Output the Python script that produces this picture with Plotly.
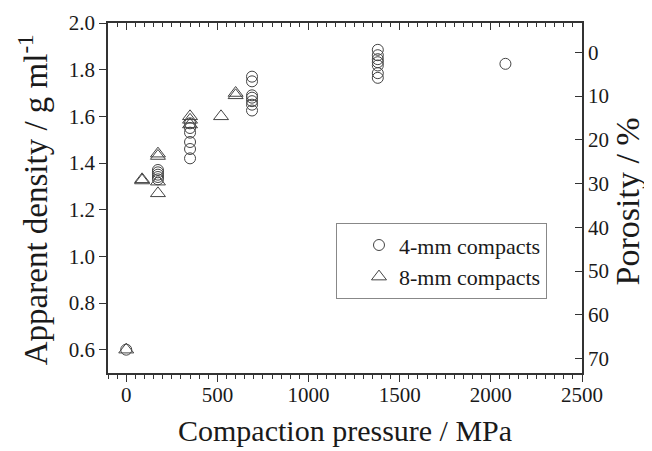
import plotly.graph_objects as go

# ---- data ----
pressure_4mm = [0, 174, 174, 174, 174, 174,
                350, 350, 350, 350, 350, 350,
                690, 690, 690, 690, 690, 690, 690,
                1380, 1380, 1380, 1380, 1380, 1380, 1380,
                2080]
density_4mm = [0.60, 1.37, 1.36, 1.35, 1.34, 1.33,
               1.57, 1.55, 1.53, 1.49, 1.46, 1.42,
               1.77, 1.75, 1.69, 1.68, 1.665, 1.65, 1.625,
               1.885, 1.862, 1.845, 1.832, 1.818, 1.785, 1.765,
               1.825]

pressure_8mm = [0, 87, 87, 174, 174, 174, 174, 350, 350, 350, 520, 600, 600]
density_8mm = [0.60, 1.33, 1.325, 1.44, 1.43, 1.32, 1.27, 1.60, 1.585, 1.565, 1.60, 1.70, 1.69]

true_density = 1.874          # g/ml, links density to porosity axis
x_range = [-100, 2500]
y_range = [0.5, 2.0]
x_ticks = [0, 500, 1000, 1500, 2000, 2500]
porosity_ticks = [0, 10, 20, 30, 40, 50, 60, 70]

x_title = "Compaction pressure / MPa"
y_title = "Apparent density / g ml<sup>-1</sup>"
y2_title = "Porosity / %"

FONT = "Liberation Serif, Times New Roman, serif"
INK = "#1a1a1a"
AX = "#333333"
MK = "#444444"

fig = go.Figure()
fig.add_trace(go.Scatter(
    x=pressure_4mm, y=density_4mm, mode="markers", name="4-mm compacts",
    marker=dict(symbol="circle-open", size=11, color=MK, line=dict(width=1, color=MK)),
))
fig.add_trace(go.Scatter(
    x=pressure_8mm, y=density_8mm, mode="markers", name="8-mm compacts",
    marker=dict(symbol="triangle-up-open", size=13, color=MK, line=dict(width=1, color=MK)),
))

# same samples expressed as porosity, invisible, so the top / right axes are drawn
all_p = pressure_4mm + pressure_8mm
all_por = [100 * (1 - d / true_density) for d in density_4mm + density_8mm]
fig.add_trace(go.Scatter(
    x=all_p, y=all_por, xaxis="x2", yaxis="y2", mode="markers",
    marker=dict(opacity=0), showlegend=False, hoverinfo="skip",
))

por_range = [100 * (1 - y_range[0] / true_density), 100 * (1 - y_range[1] / true_density)]

fig.update_layout(
    template="none",
    width=644, height=443,
    margin=dict(l=100, r=70, t=15, b=78, autoexpand=False),
    paper_bgcolor="white", plot_bgcolor="white",
    font=dict(family=FONT, color=INK, size=21),
    showlegend=True,
    legend=dict(
        x=0.481, y=0.428, xanchor="left", yanchor="top",
        bordercolor="#888888", borderwidth=1, bgcolor="white",
        font=dict(family=FONT, size=22, color=INK),
        indentation=22, tracegroupgap=0,
    ),
    xaxis=dict(
        range=x_range, tickvals=x_ticks, ticks="outside", ticklen=7, tickwidth=1.2,
        tickcolor=AX, showline=True, linecolor=AX, linewidth=1.5, showgrid=False,
        zeroline=False, automargin=False, ticklabelstandoff=-5,
        minor=dict(dtick=50, tick0=0, ticks="outside", ticklen=4, tickcolor=AX, tickwidth=1),
        tickfont=dict(size=21, family=FONT, color=INK),
    ),
    xaxis2=dict(
        range=x_range, overlaying="x", side="top", anchor="y", tickvals=x_ticks,
        ticks="inside", ticklen=7, tickwidth=1.2, tickcolor=AX, showticklabels=False,
        showline=True, linecolor=AX, linewidth=1.5, showgrid=False, zeroline=False,
        automargin=False,
        minor=dict(dtick=50, tick0=0, ticks="inside", ticklen=4, tickcolor=AX, tickwidth=1),
    ),
    yaxis=dict(
        range=y_range, dtick=0.2, tick0=0, tickformat=".1f", ticks="outside", ticklen=7,
        tickwidth=1.2, tickcolor=AX, showline=True, linecolor=AX, linewidth=1.5,
        showgrid=False, zeroline=False, automargin=False,
        tickfont=dict(size=21, family=FONT, color=INK),
    ),
    yaxis2=dict(
        range=por_range, overlaying="y", side="right", anchor="x", tickvals=porosity_ticks,
        ticks="inside", ticklen=7, tickwidth=1.2, tickcolor=AX, showline=True,
        linecolor=AX, linewidth=1.5, showgrid=False, zeroline=False, automargin=False,
        tickfont=dict(size=21, family=FONT, color=INK),
    ),
    annotations=[
        dict(text=x_title, xref="paper", yref="paper", x=0.5, y=-0.163,
             xanchor="center", yanchor="middle", showarrow=False,
             font=dict(size=30, family=FONT, color=INK)),
        dict(text=y_title, xref="paper", yref="paper", x=-0.158, y=0.494,
             xanchor="center", yanchor="middle", showarrow=False, textangle=-90,
             font=dict(size=33, family=FONT, color=INK)),
        dict(text=y2_title, xref="paper", yref="paper", x=1.097, y=0.49,
             xanchor="center", yanchor="middle", showarrow=False, textangle=-90,
             font=dict(size=34, family=FONT, color=INK)),
    ],
)

fig.write_html("out.html")
